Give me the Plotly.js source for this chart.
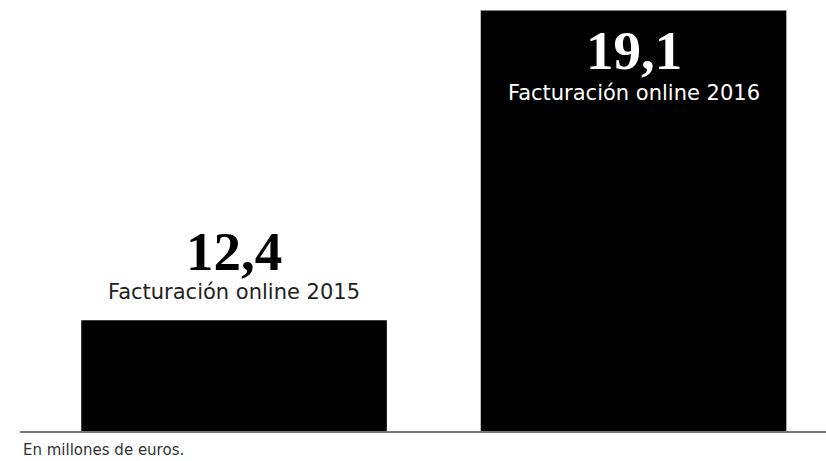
<!DOCTYPE html>
<html>
<head>
<meta charset="utf-8">
<script src="https://cdn.plot.ly/plotly-3.0.1.min.js"></script>
<style>html,body{margin:0;padding:0;background:#fff;}#chart{width:826px;height:461px;}</style>
</head>
<body>
<div id="chart"></div>
<script>
var categories = ["Facturación online 2015", "Facturación online 2016"];
var values = [12.4, 19.1];
var valueLabels = ["12,4", "19,1"];
var note = "En millones de euros.";

var numColors = ["#000000", "#ffffff"];
var subColors = ["#222222", "#ffffff"];
var numShift = [69, -40];
var subShift = [28, -82];

var annotations = [];
for (var i = 0; i < categories.length; i++) {
  annotations.push({
    x: i, y: values[i], xref: "x", yref: "y",
    text: "<b>" + valueLabels[i] + "</b>", showarrow: false,
    xanchor: "center", yanchor: "middle", yshift: numShift[i],
    font: {family: "Liberation Serif, Times New Roman, serif", size: 55, color: numColors[i]}
  });
  annotations.push({
    x: i, y: values[i], xref: "x", yref: "y",
    text: categories[i], showarrow: false,
    xanchor: "center", yanchor: "middle", yshift: subShift[i],
    font: {family: "DejaVu Sans, Noto Sans, sans-serif", size: 21, color: subColors[i]}
  });
}
annotations.push({
  x: 0, y: -30 / 431, xref: "paper", yref: "paper", xanchor: "left", yanchor: "bottom",
  xshift: 1, yshift: 0,
  text: note, showarrow: false,
  font: {family: "DejaVu Sans, Noto Sans, sans-serif", size: 15, color: "#333333"}
});

var trace = {
  type: "bar",
  x: [0, 1],
  y: values,
  marker: {color: "#000000", line: {width: 0}},
  hoverinfo: "none",
  width: 0.765
};

var layout = {
  width: 826, height: 461,
  margin: {l: 20, r: 0, t: 0, b: 30},
  paper_bgcolor: "#ffffff", plot_bgcolor: "#ffffff",
  showlegend: false,
  xaxis: {range: [-0.5358, 1.4818], showgrid: false, zeroline: false, showticklabels: false,
          ticks: "", showline: true, linecolor: "#777777", linewidth: 1.5, fixedrange: true},
  yaxis: {range: [10, 19.33], showgrid: false, zeroline: false, showticklabels: false,
          ticks: "", showline: false, fixedrange: true},
  annotations: annotations
};

Plotly.newPlot("chart", [trace], layout, {displayModeBar: false, staticPlot: true});
</script>
</body>
</html>
